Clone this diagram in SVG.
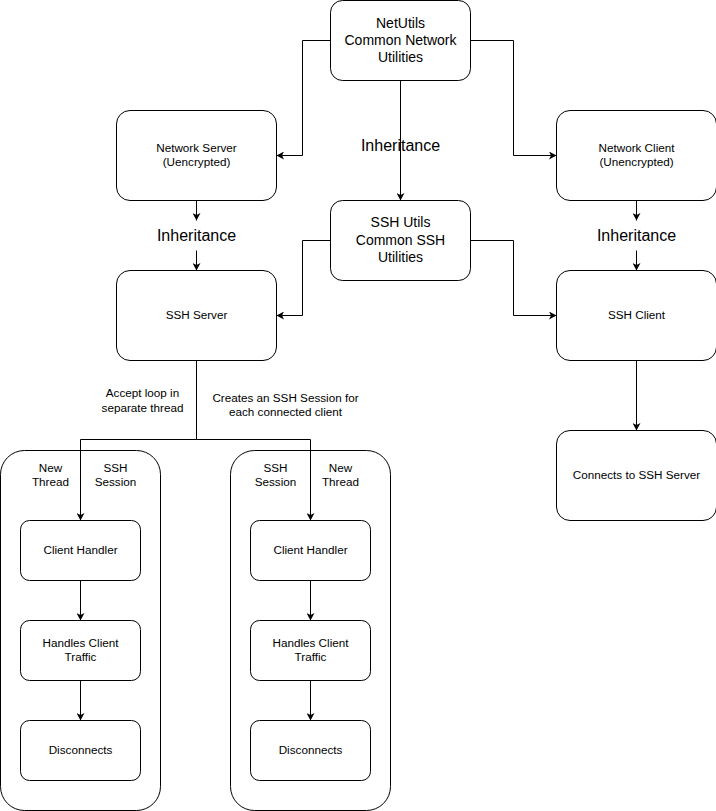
<svg xmlns="http://www.w3.org/2000/svg" width="716" height="811" viewBox="0 0 716 811">
<defs>
<marker id="arr" viewBox="-8 -4 9 8" refX="0" refY="0" markerWidth="9" markerHeight="8" orient="auto" markerUnits="userSpaceOnUse">
<path d="M0,0 L-7.5,-4 L-5.5,0 L-7.5,4 Z" fill="#000"/>
</marker>
</defs>
<style>
.box{fill:#fff;stroke:#000;stroke-width:1}
.edge{fill:none;stroke:#000;stroke-width:1}
.arrow{marker-end:url(#arr)}
text{font-family:"Liberation Sans",Arial,Helvetica,sans-serif;fill:#000;text-anchor:middle}
.t12{font-size:11.7px}
.t14{font-size:14px}
.t16{font-size:16px}
</style>
<rect x="0" y="0" width="716" height="811" fill="#fff"/>
<g transform="translate(0.5,0.5)">
<g id="container-left"><rect class="box" x="0" y="450" width="160" height="360" rx="24"/></g>
<g id="container-right"><rect class="box" x="230" y="450" width="160" height="360" rx="24"/></g>

<g id="connectors">
<path class="edge arrow" d="M330,40 H302 V155 H276"/>
<path class="edge arrow" d="M470,40 H513 V155 H556"/>
<path class="edge arrow" d="M400,80 V200"/>
<path class="edge arrow" d="M330,240 H302 V315 H276"/>
<path class="edge arrow" d="M470,240 H513 V315 H556"/>
<path class="edge arrow" d="M196,200 V220"/>
<path class="edge arrow" d="M196,250 V270"/>
<path class="edge arrow" d="M636,200 V220"/>
<path class="edge arrow" d="M636,250 V270"/>
<path class="edge arrow" d="M636,360 V430"/>
<path class="edge" d="M196,360 V439"/>
<path class="edge arrow" d="M196,439 H80 V520"/>
<path class="edge arrow" d="M196,439 H310 V520"/>
<path class="edge arrow" d="M80,580 V620"/>
<path class="edge arrow" d="M80,680 V720"/>
<path class="edge arrow" d="M310,580 V620"/>
<path class="edge arrow" d="M310,680 V720"/>
</g>

<g id="netutils"><rect class="box" x="330" y="0" width="140" height="80" rx="12"/>
<text class="t14" x="400" y="27.5">NetUtils</text><text class="t14" x="400" y="44.2">Common Network</text><text class="t14" x="400" y="61">Utilities</text></g>
<g id="sshutils"><rect class="box" x="330" y="200" width="140" height="80" rx="12"/>
<text class="t14" x="400" y="226.5">SSH Utils</text><text class="t14" x="400" y="244.2">Common SSH</text><text class="t14" x="400" y="261">Utilities</text></g>
<g id="label-inh-center"><text class="t16" x="400" y="150">Inheritance</text></g>

<g id="network-server"><rect class="box" x="116" y="110" width="160" height="90" rx="13.5"/>
<text class="t12" x="196" y="151.2">Network Server</text><text class="t12" x="196" y="165.7">(Uencrypted)</text></g>
<g id="network-client"><rect class="box" x="556" y="110" width="160" height="90" rx="13.5"/>
<text class="t12" x="636" y="151.2">Network Client</text><text class="t12" x="636" y="165.7">(Unencrypted)</text></g>
<g id="label-inh-left"><text class="t16" x="196" y="240">Inheritance</text></g>
<g id="label-inh-right"><text class="t16" x="636" y="240">Inheritance</text></g>
<g id="ssh-server"><rect class="box" x="116" y="270" width="160" height="90" rx="13.5"/>
<text class="t12" x="196" y="318.5">SSH Server</text></g>
<g id="ssh-client"><rect class="box" x="556" y="270" width="160" height="90" rx="13.5"/>
<text class="t12" x="636" y="318.5">SSH Client</text></g>
<g id="connects"><rect class="box" x="556" y="430" width="160" height="90" rx="13.5"/>
<text class="t12" x="636" y="478.5">Connects to SSH Server</text></g>

<g id="label-accept"><text class="t12" x="142" y="396.8">Accept loop in</text><text class="t12" x="142" y="411.2">separate thread</text></g>
<g id="label-creates"><text class="t12" x="285" y="401.2">Creates an SSH Session for</text><text class="t12" x="285" y="415.7">each connected client</text></g>

<g id="label-newthread-left"><text class="t12" x="50" y="471.2">New</text><text class="t12" x="50" y="485.7">Thread</text></g>
<g id="label-session-left"><text class="t12" x="115" y="471.2">SSH</text><text class="t12" x="115" y="485.7">Session</text></g>
<g id="label-session-right"><text class="t12" x="275" y="471.2">SSH</text><text class="t12" x="275" y="485.7">Session</text></g>
<g id="label-newthread-right"><text class="t12" x="340" y="471.2">New</text><text class="t12" x="340" y="485.7">Thread</text></g>

<g id="handler-left"><rect class="box" x="20" y="520" width="120" height="60" rx="9"/><text class="t12" x="80" y="553.5">Client Handler</text></g>
<g id="traffic-left"><rect class="box" x="20" y="620" width="120" height="60" rx="9"/><text class="t12" x="80" y="646.2">Handles Client</text><text class="t12" x="80" y="660.7">Traffic</text></g>
<g id="disconnect-left"><rect class="box" x="20" y="720" width="120" height="60" rx="9"/><text class="t12" x="80" y="753.5">Disconnects</text></g>
<g id="handler-right"><rect class="box" x="250" y="520" width="120" height="60" rx="9"/><text class="t12" x="310" y="553.5">Client Handler</text></g>
<g id="traffic-right"><rect class="box" x="250" y="620" width="120" height="60" rx="9"/><text class="t12" x="310" y="646.2">Handles Client</text><text class="t12" x="310" y="660.7">Traffic</text></g>
<g id="disconnect-right"><rect class="box" x="250" y="720" width="120" height="60" rx="9"/><text class="t12" x="310" y="753.5">Disconnects</text></g>
</g>
</svg>
